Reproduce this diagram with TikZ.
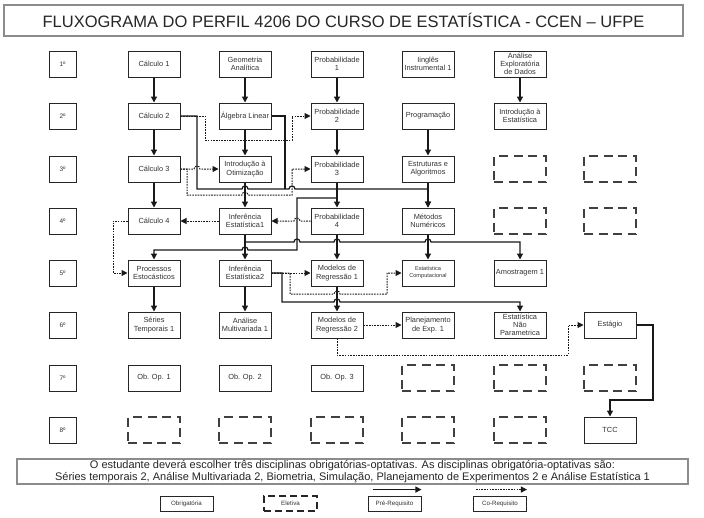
\documentclass[tikz,border=0pt]{standalone}
\usepackage{fontspec}
\setmainfont{Liberation Sans}
\usetikzlibrary{arrows.meta}
\begin{document}
\begin{tikzpicture}[x=1pt,y=-1pt,
  box/.style={draw=black!85, line width=1pt, minimum width=52pt, minimum height=26pt, inner sep=0pt, align=center, font=\fontsize{7.4}{8.3}\selectfont, text=black!80},
  elet/.style={draw=black!75, line width=1.4pt, dash pattern=on 9pt off 5.5pt, minimum width=52pt, minimum height=26pt, inner sep=0pt},
  sem/.style={draw=black!85, line width=1pt, minimum width=27pt, minimum height=26pt, inner sep=0pt, font=\fontsize{6.5}{7.5}\selectfont, text=black!80},
  legbox/.style={draw=black!85, line width=0.9pt, minimum width=53pt, minimum height=15pt, inner sep=0pt, font=\fontsize{6.2}{7}\selectfont, text=black!80},
  pre/.style={line width=1.2pt, draw=black!90, -{Triangle[length=6pt,width=6pt]}},
  preline/.style={line width=1.2pt, draw=black!90},
  co/.style={line width=1pt, draw=black!90, dash pattern=on 1.6pt off 1.1pt, -{Triangle[length=6pt,width=6pt]}},
  hr/.style 2 args={insert path={-- (#1-3,#2) .. controls (#1-3,#2-4) and (#1+3,#2-4) .. (#1+3,#2)}},
  hl/.style 2 args={insert path={-- (#1+3,#2) .. controls (#1+3,#2-4) and (#1-3,#2-4) .. (#1-3,#2)}},
]
\useasboundingbox (0,0) rectangle (704,517);
\fill[white] (0,0) rectangle (704,517);

% title
\node[draw=black!45, line width=1.6pt, minimum width=679pt, minimum height=31pt, inner sep=0pt,
  font=\fontsize{16.5}{18}\selectfont, text=black!85] (title) at (343.5,20.5)
  {FLUXOGRAMA DO PERFIL 4206 DO CURSO DE ESTATÍSTICA - CCEN – UFPE};

% semester labels
\node[sem] (s1) at (62.5,64) {1º};
\node[sem] (s2) at (62.5,116) {2º};
\node[sem] (s3) at (62.5,169) {3º};
\node[sem] (s4) at (62.5,221) {4º};
\node[sem] (s5) at (62.5,273) {5º};
\node[sem] (s6) at (62.5,325) {6º};
\node[sem] (s7) at (62.5,378) {7º};
\node[sem] (s8) at (62.5,430) {8º};

% row 1
\node[box] (calc1) at (154,64) {Cálculo 1};
\node[box] (geo) at (245,64) {Geometria\\Analítica};
\node[box] (prob1) at (337,64) {Probabilidade\\1};
\node[box] (ingl) at (428,64) {Iinglês\\Instrumental 1};
\node[box] (aed) at (520,64) {Análise\\Exploratória\\de Dados};
% row 2
\node[box] (calc2) at (154,116) {Cálculo 2};
\node[box] (alg) at (245,116) {Álgebra Linear};
\node[box] (prob2) at (337,116) {Probabilidade\\2};
\node[box] (prog) at (428,116) {Programação};
\node[box] (iest) at (520,116) {Introdução à\\Estatística};
% row 3
\node[box] (calc3) at (154,169) {Cálculo 3};
\node[box] (iotim) at (245,169) {Introdução à\\Otimização};
\node[box] (prob3) at (337,169) {Probabilidade\\3};
\node[box] (estr) at (428,169) {Estruturas e\\Algoritmos};
\node[elet] (e31) at (520,169) {};
\node[elet] (e32) at (610,169) {};
% row 4
\node[box] (calc4) at (154,221) {Cálculo 4};
\node[box] (inf1) at (245,221) {Inferência\\Estatística1};
\node[box] (prob4) at (337,221) {Probabilidade\\4};
\node[box] (metnum) at (428,221) {Métodos\\Numéricos};
\node[elet] (e41) at (520,221) {};
\node[elet] (e42) at (610,221) {};
% row 5
\node[box] (proc) at (154,273) {Processos\\Estocásticos};
\node[box] (inf2) at (245,273) {Inferência\\Estatística2};
\node[box] (mr1) at (337,273) {Modelos de\\Regressão 1};
\node[box, font=\fontsize{5.6}{7}\selectfont] (estcomp) at (428,273) {Estatística\\Computacional};
\node[box] (amost) at (520,273) {Amostragem 1};
% row 6
\node[box] (series) at (154,325) {Séries\\Temporais 1};
\node[box] (amult) at (245,325) {Análise\\Multivariada 1};
\node[box] (mr2) at (337,325) {Modelos de\\Regressão 2};
\node[box] (plan) at (428,325) {Planejamento\\de Exp. 1};
\node[box] (estnp) at (520,325) {Estatística\\Não\\Parametrica};
\node[box] (estag) at (610,325) {Estágio};
% row 7
\node[box] (oo1) at (154,378) {Ob. Op. 1};
\node[box] (oo2) at (245,378) {Ob. Op. 2};
\node[box] (oo3) at (337,378) {Ob. Op. 3};
\node[elet] (e71) at (428,378) {};
\node[elet] (e72) at (520,378) {};
\node[elet] (e73) at (610,378) {};
% row 8
\node[elet] (e81) at (154,430) {};
\node[elet] (e82) at (245,430) {};
\node[elet] (e83) at (337,430) {};
\node[elet] (e84) at (428,430) {};
\node[elet] (e85) at (520,430) {};
\node[box] (tcc) at (610,430) {TCC};

% note
\node[draw=black!45, line width=1.2pt, minimum width=671pt, minimum height=25pt, inner sep=0pt, align=center,
  font=\fontsize{11}{12}\selectfont, text=black!85] (note) at (352.5,471.5)
  {O estudante deverá escolher três disciplinas obrigatórias-optativas. As disciplinas obrigatória-optativas são:\\
   Séries temporais 2, Análise Multivariada 2, Biometria, Simulação, Planejamento de Experimentos 2 e Análise Estatística 1};

% legend
\node[legbox] (lob) at (186.5,503.5) {Obrigatória};
\node[legbox, dash pattern=on 7pt off 4pt, line width=1.1pt] (lel) at (290.5,503.5) {Eletiva};
\node[legbox] (lpre) at (394.5,503.5) {Pré-Requisito};
\node[legbox] (lco) at (500,503.5) {Co-Requisito};
\draw[pre] ([xshift=5pt,yshift=6pt]lpre.north west) -- ([yshift=6pt]lpre.north east);
\draw[co] ([xshift=3pt,yshift=6pt]lco.north west) -- ([yshift=6pt]lco.north east);

% co-requisites (dotted)
\draw[co] (calc2.east) -- (205,116) -- (205,140) -- (292,140) -- (292,116) -- (prob2.west);
\draw[co] (calc3.east) [hr={197}{169}] -- (iotim.west);
\draw[co] (calc3.east) -- (187,169) -- (187,195) [hr={245}{195}] -- (292,195) -- (292,169) -- (prob3.west);
\draw[co] (inf1.west) -- (calc4.east);
\draw[co] (prob4.west) [hl={297}{221}] -- (inf1.east);
\draw[co] (calc4.west) -- (113,221) -- (113,273) -- (proc.west);
\draw[co] (inf2.east) -- (mr1.west);
\draw[co] (inf2.east) -- (290,273) -- (290,294) [hr={337}{294}] -- (387,294) -- (387,273) -- (estcomp.west);
\draw[co] (mr2.east) -- (plan.west);
\draw[co] (mr2.south) -- (337,355) -- (568,355) -- (568,325) -- (estag.west);

% pre-requisites (solid)
\draw[pre] (calc1.south) -- (calc2.north);
\draw[pre] (geo.south) -- (alg.north);
\draw[pre] (prob1.south) -- (prob2.north);
\draw[pre] (aed.south) -- (iest.north);
\draw[pre] (calc2.south) -- (calc3.north);
\draw[pre] (alg.south) -- (iotim.north);
\draw[pre] (prob2.south) -- (prob3.north);
\draw[pre] (prog.south) -- (estr.north);
\draw[pre] (calc3.south) -- (calc4.north);
\draw[pre] (prob3.south) -- (prob4.north);
\draw[pre] (estr.south) -- (metnum.north);
\draw[pre] (iotim.south) -- (inf1.north);
\draw[pre] (prob4.south) -- (mr1.north);
\draw[pre] (inf1.south) -- (inf2.north);
\draw[pre] (proc.south) -- (series.north);
\draw[pre] (inf2.south) -- (amult.north);
\draw[pre] (mr1.south) -- (mr2.north);
\draw[pre] (metnum.south) -- (estcomp.north);

\draw[pre] (calc2.east) -- (197,116) -- (197,189) [hr={245}{189}] -- (285,189) [hr={292}{189}] -- (428,189) -- (metnum.north);
\draw[preline] (alg.east) -- (285,116) -- (285,189);
\draw[pre] (prob3.south |- 0,198) -- (297,198) -- (297,250) [hl={245}{250}] -- (154,250) -- (proc.north);
\draw[pre] (inf1.south |- 0,242) [hr={297}{242}] [hr={337}{242}] [hr={428}{242}] -- (520,242) -- (amost.north);
\draw[pre] (inf2.east) -- (282,273) -- (282,302) [hr={337}{302}] -- (520,302) -- (estnp.north);
\draw[pre] (estag.east) -- (653,325) -- (653,400) -- (610,400) -- (tcc.north);
\end{tikzpicture}
\end{document}
